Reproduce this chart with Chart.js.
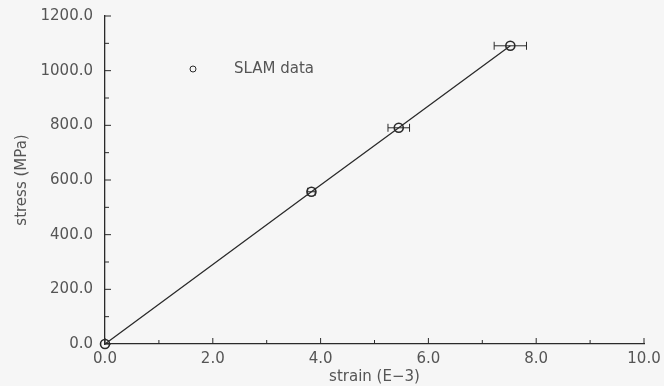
<!DOCTYPE html>
<html lang="en">
<head>
<meta charset="UTF-8">
<title>Stress vs strain</title>
<script src="https://cdn.jsdelivr.net/npm/chart.js"></script>
<style>
  html, body { margin: 0; padding: 0; background: #f6f6f6; }
  .chart_area { width: 664px; height: 386px; }
</style>
</head>
<body>
<div class="chart_area">
  <canvas id="stressChart"></canvas>
</div>

<script>
// SLAM data (strain in E-3, stress in MPa)
const strain = [0.0, 3.83, 5.45, 7.52];
const stress = [0.0, 557, 791, 1091];
const strainErr = [0.0, 0.07, 0.2, 0.3];
const xTicks = [0, 2, 4, 6, 8, 10];
const yTicks = [0, 200, 400, 600, 800, 1000, 1200];

const ink = '#2a2a2a';
const textColor = '#555555';
const font = { family: 'DejaVu Sans', size: 15 };

// inward ticks + horizontal error bars + legend inside the plot
const extras = {
  id: 'extras',
  afterDatasetsDraw(chart) {
    const ctx = chart.ctx;
    const x = chart.scales.x, y = chart.scales.y;
    ctx.save();
    ctx.strokeStyle = ink;
    ctx.lineWidth = 1;

    // x ticks, every 1.0, longer at labelled ones
    for (let v = 0; v <= 10; v++) {
      const px = x.getPixelForValue(v);
      const len = v % 2 === 0 ? 6 : 4;
      ctx.beginPath();
      ctx.moveTo(px, y.bottom);
      ctx.lineTo(px, y.bottom - len);
      ctx.stroke();
    }
    // y ticks, every 100
    for (let v = 0; v <= 1200; v += 100) {
      const py = y.getPixelForValue(v);
      const len = v % 200 === 0 ? 6 : 4;
      ctx.beginPath();
      ctx.moveTo(x.left, py);
      ctx.lineTo(x.left + len, py);
      ctx.stroke();
    }

    // error bars
    for (let i = 0; i < strain.length; i++) {
      if (!strainErr[i]) continue;
      const py = y.getPixelForValue(stress[i]);
      const x0 = x.getPixelForValue(strain[i] - strainErr[i]);
      const x1 = x.getPixelForValue(strain[i] + strainErr[i]);
      ctx.beginPath();
      ctx.moveTo(x0, py); ctx.lineTo(x1, py);
      ctx.moveTo(x0, py - 4); ctx.lineTo(x0, py + 4);
      ctx.moveTo(x1, py - 4); ctx.lineTo(x1, py + 4);
      ctx.stroke();
    }

    // legend
    const lx = x.left + 88, ly = y.top + 53;
    ctx.beginPath();
    ctx.arc(lx, ly, 3, 0, Math.PI * 2);
    ctx.stroke();
    ctx.fillStyle = textColor;
    ctx.font = '15px "DejaVu Sans"';
    ctx.textBaseline = 'middle';
    ctx.fillText('SLAM data', lx + 41, ly);
    ctx.restore();
  }
};

new Chart(document.getElementById('stressChart'), {
  type: 'scatter',
  data: {
    datasets: [{
      label: 'SLAM data',
      data: strain.map((s, i) => ({ x: s, y: stress[i] })),
      showLine: true,
      clip: false,
      borderColor: ink,
      borderWidth: 1.3,
      pointRadius: 4.5,
      pointBorderWidth: 1.6,
      pointBackgroundColor: 'rgba(0,0,0,0)',
      pointBorderColor: ink
    }]
  },
  options: {
    responsive: true,
    maintainAspectRatio: false,
    animation: false,
    layout: { padding: { top: 16, right: 20, left: 0, bottom: 0 } },
    plugins: { legend: { display: false }, tooltip: { enabled: false } },
    scales: {
      x: {
        type: 'linear',
        min: 0, max: 10,
        afterBuildTicks: s => { s.ticks = xTicks.map(v => ({ value: v })); },
        afterFit: s => { s.height = 42; s.paddingLeft = 0; s.paddingRight = 0; },
        grid: { display: false, drawTicks: false },
        border: { display: true, color: ink, width: 1.3 },
        ticks: { color: textColor, font: font, padding: 6, maxRotation: 0,
                 callback: v => v.toFixed(1) },
        title: { display: true, text: 'strain (E\u22123)', color: textColor, font: font,
                 padding: { top: 0, bottom: 0 } }
      },
      y: {
        type: 'linear',
        min: 0, max: 1200,
        afterBuildTicks: s => { s.ticks = yTicks.map(v => ({ value: v })); },
        afterFit: s => { s.width = 105; s.paddingTop = 0; s.paddingBottom = 0; },
        grid: { display: false, drawTicks: false },
        border: { display: true, color: ink, width: 1.3 },
        ticks: { color: textColor, font: font, padding: 12,
                 callback: v => v.toFixed(1) },
        title: { display: true, text: 'stress (MPa)', color: textColor, font: font,
                 padding: { top: 13, bottom: 0 } }
      }
    }
  },
  plugins: [extras]
});
</script>
</body>
</html>
